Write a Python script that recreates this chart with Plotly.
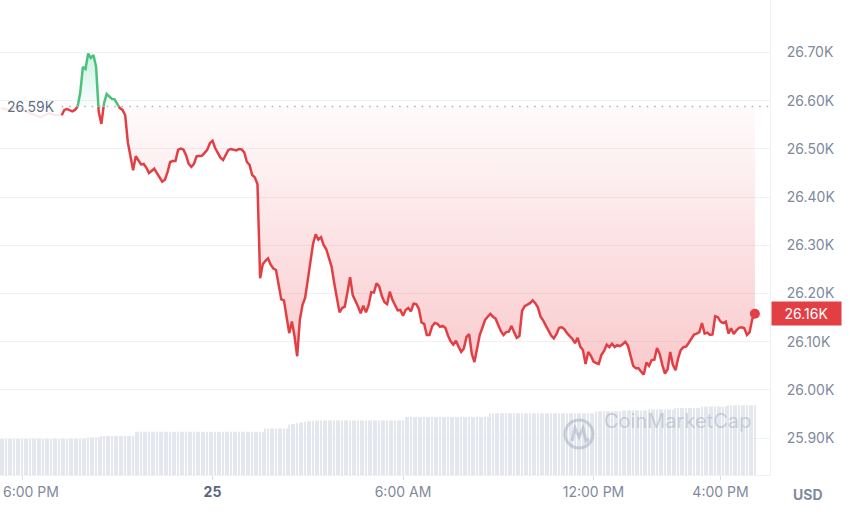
import numpy as np
import pandas as pd
import plotly.graph_objects as go

# ---------------- data ----------------
start_time = "2023-08-24 19:15"          # first 5-minute price point
prices = [
    26570, 26581, 26583, 26581, 26578, 26581, 26587, 26616, 26670, 26666,
    26698, 26689, 26695, 26671, 26577, 26552, 26595, 26614, 26609, 26604,
    26603, 26593, 26585, 26581, 26570, 26514, 26485, 26456, 26485, 26477,
    26468, 26469, 26461, 26450, 26454, 26459, 26450, 26441, 26432, 26436,
    26452, 26473, 26475, 26475, 26498, 26501, 26499, 26487, 26469, 26463,
    26469, 26485, 26485, 26486, 26492, 26498, 26512, 26517, 26502, 26492,
    26482, 26477, 26487, 26498, 26500, 26499, 26497, 26500, 26499, 26493,
    26473, 26467, 26446, 26441, 26427, 26232, 26261, 26268, 26273, 26260,
    26252, 26249, 26222, 26188, 26186, 26156, 26118, 26142, 26112, 26070,
    26145, 26176, 26191, 26228, 26265, 26303, 26323, 26312, 26317, 26301,
    26292, 26274, 26256, 26222, 26192, 26161, 26170, 26173, 26203, 26234,
    26197, 26186, 26173, 26159, 26175, 26161, 26176, 26203, 26202, 26221,
    26215, 26195, 26182, 26178, 26204, 26187, 26177, 26165, 26166, 26154,
    26166, 26170, 26163, 26179, 26178, 26168, 26140, 26137, 26114, 26114,
    26132, 26139, 26137, 26131, 26133, 26129, 26113, 26101, 26094, 26102,
    26090, 26079, 26086, 26110, 26116, 26075, 26058, 26085, 26114, 26129,
    26145, 26152, 26158, 26152, 26148, 26135, 26122, 26114, 26120, 26121,
    26133, 26120, 26108, 26112, 26164, 26174, 26177, 26180, 26186, 26180,
    26171, 26152, 26144, 26132, 26123, 26113, 26107, 26116, 26129, 26130,
    26126, 26118, 26113, 26106, 26097, 26108, 26090, 26083, 26054, 26079,
    26071, 26059, 26056, 26054, 26073, 26081, 26094, 26089, 26096, 26089,
    26093, 26091, 26095, 26100, 26092, 26072, 26050, 26045, 26045, 26038,
    26032, 26057, 26050, 26062, 26063, 26087, 26075, 26052, 26034, 26043,
    26079, 26052, 26041, 26066, 26083, 26089, 26090, 26098, 26108, 26115,
    26117, 26120, 26139, 26117, 26119, 26114, 26115, 26153, 26151, 26142,
    26139, 26142, 26117, 26128, 26116, 26124, 26129, 26130, 26128, 26114,
    26120, 26147, 26158,
]

# faded earlier part of the line (behind the reference label)
prior_times = ["2023-08-24 17:20", "2023-08-24 17:35", "2023-08-24 17:50",
               "2023-08-24 18:05", "2023-08-24 18:20", "2023-08-24 18:35",
               "2023-08-24 18:50", "2023-08-24 19:05", "2023-08-24 19:15"]
prior_prices = [26585, 26581, 26587, 26579, 26572, 26566, 26574, 26570, 26570]

base_price = 26588                      # 24h-ago reference price (dotted line)

volume_start = "2023-08-24 17:20"       # volume bars, 5-minute steps (B USD)
volumes = [
    7.6, 7.6, 7.6, 7.6, 7.6, 7.6, 7.6, 7.6, 7.6, 7.6, 7.6,
    7.6, 7.6, 7.6, 7.6, 7.6, 7.6, 7.6, 7.6, 7.6, 7.6, 7.6,
    7.6, 7.6, 7.6, 7.6, 7.6, 7.6, 7.6, 7.6, 7.6, 7.6, 7.6,
    7.9, 7.9, 7.9, 7.9, 7.9,
    8.2, 8.2, 8.2, 8.2, 8.2, 8.2, 8.2, 8.2, 8.2, 8.2, 8.2, 8.2, 8.2,
    9.1, 9.1, 9.1, 9.1, 9.1, 9.1, 9.1, 9.1, 9.1, 9.1,
    9.1, 9.1, 9.1, 9.1, 9.1, 9.1, 9.1, 9.1, 9.1, 9.1,
    9.1, 9.1, 9.1, 9.1, 9.1, 9.1, 9.1, 9.1, 9.1, 9.1,
    9.1, 9.1, 9.1, 9.1, 9.1, 9.1, 9.1, 9.1, 9.1, 9.1,
    9.1, 9.1, 9.1, 9.1, 9.1, 9.1, 9.1, 9.1, 9.1,
    9.8, 9.8, 9.8, 9.8, 9.8, 9.8, 9.8, 9.8, 9.8,
    10.6, 10.7, 10.8, 10.9, 11.0, 11.1, 11.2, 11.3, 11.4, 11.4,
    11.5, 11.5, 11.5, 11.5, 11.5, 11.5, 11.5, 11.5, 11.5, 11.5,
    11.5, 11.5, 11.5, 11.5, 11.5, 11.5, 11.5, 11.5, 11.5, 11.5,
    11.5, 11.5, 11.5, 11.5, 11.5, 11.5, 11.5, 11.5, 11.5, 11.5,
    11.5, 11.5, 11.5, 11.5,
    12.2, 12.2, 12.2, 12.2, 12.2, 12.2, 12.2, 12.2, 12.2, 12.2,
    12.2, 12.2, 12.2, 12.2, 12.2, 12.2, 12.2, 12.2, 12.2, 12.2,
    12.2, 12.2, 12.2, 12.2, 12.2, 12.2, 12.2, 12.2, 12.2, 12.2,
    12.2, 12.2,
    13.0, 13.0, 13.0, 13.0, 13.0, 13.0, 13.0, 13.0, 13.0, 13.0,
    13.0, 13.0, 13.0, 13.0, 13.0, 13.0, 13.0, 13.0, 13.0, 13.0,
    13.0, 13.0, 13.0, 13.0, 13.0, 13.0, 13.0, 13.0, 13.0, 13.0,
    13.0, 13.0, 13.0, 13.0, 13.0, 13.0, 13.0, 13.0, 13.0, 13.0,
    13.4, 13.4, 13.4, 13.4, 13.4, 13.4, 13.4, 13.4, 13.4, 13.4,
    13.6, 13.6, 13.6, 13.6, 13.6, 13.6, 13.6, 13.6, 13.6, 13.6,
    13.8, 13.8, 13.8, 13.8, 13.8, 13.8, 13.8, 13.8, 13.8, 13.8,
    14.1, 14.1, 14.1, 14.1, 14.1, 14.1, 14.1, 14.1, 14.1, 14.1,
    14.4, 14.4, 14.4, 14.4, 14.4, 14.4, 14.4, 14.4, 14.4, 14.4,
    14.7, 14.7, 14.7, 14.7, 14.7, 14.7, 14.7, 14.7, 14.7, 14.7, 14.7,
]

y_tickvals = [25900, 26000, 26100, 26200, 26300, 26400, 26500, 26600, 26700]
y_ticktext = ["25.90K", "26.00K", "26.10K", "26.20K", "26.30K",
              "26.40K", "26.50K", "26.60K", "26.70K"]
x_tickvals = ["2023-08-24 18:00", "2023-08-25 00:00", "2023-08-25 06:00",
              "2023-08-25 12:00", "2023-08-25 16:00"]
x_ticktext = ["6:00 PM", "<span style='color:#58667e'><b>25</b></span>",
              "6:00 AM", "12:00 PM", "4:00 PM"]

# ---------------- styling ----------------
RED = "#e23f45"
GREEN = "#4cc17c"
AXIS_TXT = "#808a9d"
GRID = "#eff2f5"
PLOT_W, PLOT_H = 770, 475
x_range = ["2023-08-24 17:18:26", "2023-08-25 17:33:32"]
y_range = [25823.6, 26809.1]

times = pd.date_range(start_time, periods=len(prices), freq="5min")
vol_times = pd.date_range(volume_start, periods=len(volumes), freq="5min")

# insert base-line crossing points so colours switch exactly at the baseline
t_ms = times.asi8 / 1e6
p = np.array(prices, dtype=float)
aug_t, aug_p = [t_ms[0]], [p[0]]
for i in range(1, len(p)):
    p0, p1 = p[i - 1], p[i]
    if (p0 - base_price) * (p1 - base_price) < 0:
        f = (base_price - p0) / (p1 - p0)
        aug_t.append(t_ms[i - 1] + f * (t_ms[i] - t_ms[i - 1]))
        aug_p.append(base_price)
    aug_t.append(t_ms[i])
    aug_p.append(p1)
aug_x = pd.to_datetime(np.array(aug_t), unit="ms")
aug_p = np.array(aug_p)
red_line = [v if v <= base_price else None for v in aug_p]
green_line = [v if v >= base_price else None for v in aug_p]
base_arr = np.full(len(aug_p), base_price, dtype=float)

fig = go.Figure()

fig.add_trace(go.Bar(
    x=vol_times, y=volumes, width=130000, yaxis="y2",
    marker=dict(color="#e4e7ed", line=dict(width=0)),
    hoverinfo="skip", showlegend=False))

fig.add_trace(go.Scatter(
    x=pd.to_datetime(prior_times), y=prior_prices, mode="lines",
    line=dict(color="rgba(234,57,67,0.13)", width=2),
    hoverinfo="skip", showlegend=False))

# red area (below baseline)
fig.add_trace(go.Scatter(x=aug_x, y=base_arr, mode="lines",
                         line=dict(width=0), hoverinfo="skip", showlegend=False))
fig.add_trace(go.Scatter(
    x=aug_x, y=np.minimum(aug_p, base_price), mode="lines", fill="tonexty",
    line=dict(width=0),
    fillgradient=dict(type="vertical",
                      colorscale=[[0, "rgba(234,57,67,0.27)"],
                                  [1, "rgba(234,57,67,0.02)"]],
                      start=float(p.min()), stop=float(base_price)),
    hoverinfo="skip", showlegend=False))

# green area (above baseline)
fig.add_trace(go.Scatter(x=aug_x, y=base_arr, mode="lines",
                         line=dict(width=0), hoverinfo="skip", showlegend=False))
fig.add_trace(go.Scatter(
    x=aug_x, y=np.maximum(aug_p, base_price), mode="lines", fill="tonexty",
    line=dict(width=0),
    fillgradient=dict(type="vertical",
                      colorscale=[[0, "rgba(22,199,132,0.02)"],
                                  [1, "rgba(22,199,132,0.22)"]],
                      start=float(base_price), stop=float(p.max())),
    hoverinfo="skip", showlegend=False))

fig.add_trace(go.Scatter(x=aug_x, y=red_line, mode="lines", connectgaps=False,
                         line=dict(color=RED, width=2.5), showlegend=False))
fig.add_trace(go.Scatter(x=aug_x, y=green_line, mode="lines", connectgaps=False,
                         line=dict(color=GREEN, width=2.5), showlegend=False))
fig.add_trace(go.Scatter(x=[times[-1]], y=[prices[-1]], mode="markers",
                         marker=dict(color=RED, size=10), showlegend=False))


def px_x(v):
    return v / PLOT_W


def px_y(v):
    return 1 - v / PLOT_H


logo_c = (579, 434)
logo_r = 14
wm = "rgba(160,170,190,0.5)"
wave = [(572, 441), (575, 428), (579, 437), (583, 428), (586, 441), (589, 439)]
wave_path = "M " + " L ".join(f"{px_x(a):.5f},{px_y(b):.5f}" for a, b in wave)

# first tick label is drawn as an annotation so it stays inside the page
tick_text_shown = [""] + x_ticktext[1:]

fig.update_layout(
    width=850, height=521,
    margin=dict(l=0, r=80, t=0, b=46, autoexpand=False),
    paper_bgcolor="white", plot_bgcolor="white",
    showlegend=False,
    font=dict(family="Inter", color=AXIS_TXT, size=13),
    xaxis=dict(type="date", range=x_range, tickvals=x_tickvals, ticktext=tick_text_shown,
               showgrid=False, zeroline=False, showline=True, linecolor=GRID,
               linewidth=1, ticks="outside", ticklen=4, tickcolor="#d9dde4",
               ticklabeloverflow="allow", automargin=False,
               tickfont=dict(size=14, color=AXIS_TXT)),
    yaxis=dict(side="right", range=y_range, tickvals=y_tickvals, ticktext=y_ticktext,
               showgrid=True, gridcolor=GRID, zeroline=False, showline=True,
               linecolor=GRID, ticks="", ticklabelstandoff=13, automargin=False,
               tickfont=dict(size=14, color=AXIS_TXT)),
    yaxis2=dict(overlaying="y", range=[0, 100], visible=False, fixedrange=True),
    shapes=[
        dict(type="line", xref="x", yref="y", x0=times[0], x1=x_range[1],
             y0=base_price, y1=base_price,
             line=dict(color="#a6b0c3", width=1.5, dash="1.5px,6px")),
        dict(type="circle", xref="paper", yref="paper",
             x0=px_x(logo_c[0] - logo_r), x1=px_x(logo_c[0] + logo_r),
             y0=px_y(logo_c[1] + logo_r), y1=px_y(logo_c[1] - logo_r),
             line=dict(color=wm, width=3)),
        dict(type="path", xref="paper", yref="paper", path=wave_path,
             line=dict(color=wm, width=3)),
    ],
    annotations=[
        dict(x=0, xref="paper", xshift=1, xanchor="left",
             y=px_y(491), yref="paper", yanchor="middle",
             text=x_ticktext[0], showarrow=False,
             font=dict(size=14, color=AXIS_TXT)),
        dict(x=px_x(5), xref="paper", xanchor="left", y=base_price, yref="y",
             text=f"{base_price / 1000:.2f}K", showarrow=False,
             font=dict(size=14, color="#616e85")),
        dict(x=1, xref="paper", xshift=1, xanchor="left", y=prices[-1], yref="y",
             text=f"{prices[-1] / 1000:.2f}K", showarrow=False, bgcolor=RED,
             width=61, height=15, borderpad=4, align="center",
             font=dict(size=14, color="white")),
        dict(x=1, xref="paper", xshift=38, xanchor="center",
             y=px_y(505), yref="paper", text="<b>USD</b>", showarrow=False,
             font=dict(size=14, color=AXIS_TXT)),
        dict(x=px_x(677), xref="paper", xanchor="center", y=px_y(435), yref="paper",
             text="CoinMarketCap", showarrow=False,
             font=dict(size=20, color=wm)),
    ],
)

fig.write_html("out.html",
               config={"displayModeBar": False},
               post_script="document.body.style.margin='0px';"
                           "document.body.style.overflow='hidden';")
